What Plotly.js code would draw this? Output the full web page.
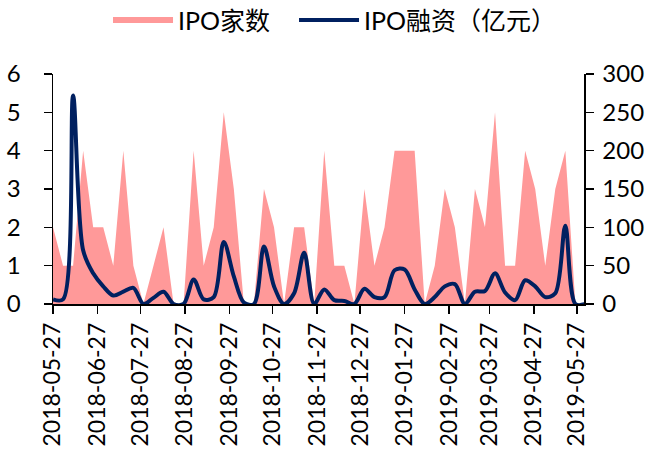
<!DOCTYPE html>
<html><head><meta charset="utf-8">
<script src="https://cdn.plot.ly/plotly-3.0.1.min.js"></script>
<style>html,body{margin:0;padding:0;background:#fff}</style></head>
<body><div id="chart" style="width:651px;height:450px"></div>
<script>
const weeks = ['2018-05-27','2018-06-03','2018-06-10','2018-06-17','2018-06-24','2018-07-01','2018-07-08','2018-07-15','2018-07-22','2018-07-29',
  '2018-08-05','2018-08-12','2018-08-19','2018-08-26','2018-09-02','2018-09-09','2018-09-16','2018-09-23','2018-09-30','2018-10-07',
  '2018-10-14','2018-10-21','2018-10-28','2018-11-04','2018-11-11','2018-11-18','2018-11-25','2018-12-02','2018-12-09','2018-12-16',
  '2018-12-23','2018-12-30','2019-01-06','2019-01-13','2019-01-20','2019-01-27','2019-02-03','2019-02-10','2019-02-17','2019-02-24',
  '2019-03-03','2019-03-10','2019-03-17','2019-03-24','2019-03-31','2019-04-07','2019-04-14','2019-04-21','2019-04-28','2019-05-05',
  '2019-05-12','2019-05-19','2019-05-26','2019-06-02'];
const ipoCount = [2,1,1,4,2,2,1,4,1,0, 1,2,0,0,4,1,2,5,3,0, 0,3,2,0,2,2,0,4,1,1, 0,3,1,2,4,4,4,0,1,3, 2,0,3,2,5,1,1,4,3,1, 3,4,0,0];
const ipoFunds = [6,6,272,70,40,23,11,16,21,0, 8,16,0,0,32,6,9,81,36,2, 0,75,23,0,14,67,0,19,5,4, 0,20,9,9,44,45,19,0,9,23, 26,0,16,17,40,15,5,31,23,9, 14,102,0,0];
const tickDates = ['2018-05-27','2018-06-27','2018-07-27','2018-08-27','2018-09-27','2018-10-27','2018-11-27',
  '2018-12-27','2019-01-27','2019-02-27','2019-03-27','2019-04-27','2019-05-27'];
const leftTicks = [0,1,2,3,4,5,6];
const rightTicks = [0,50,100,150,200,250,300];
const seriesNames = ['IPO家数','IPO融资（亿元）'];

const FONT = "Lato, 'Noto Sans CJK SC', sans-serif";
const traces = [
  {x: weeks, y: ipoCount, name: seriesNames[0], type: 'scatter', mode: 'none',
   fill: 'tozeroy', fillcolor: '#FF9999', yaxis: 'y', hoverinfo: 'skip', legend: 'legend'},
  {x: weeks, y: ipoFunds, name: seriesNames[1], type: 'scatter', mode: 'lines',
   line: {color: '#002060', width: 4, shape: 'spline', smoothing: 0.9}, yaxis: 'y2', cliponaxis: false,
   legend: 'legend2'}
];
const legendBase = {orientation: 'h', xanchor: 'left', y: 1.234, yanchor: 'middle',
  font: {family: FONT, size: 25, color: '#000'}, itemwidth: 60, bgcolor: 'rgba(0,0,0,0)'};
const layout = {
  width: 651, height: 450,
  margin: {l: 53, r: 67, t: 74, b: 146, autoexpand: false},
  paper_bgcolor: '#fff', plot_bgcolor: '#fff',
  font: {family: FONT, size: 24, color: '#000'},
  showlegend: true,
  legend: Object.assign({}, legendBase, {x: 0.1036}),
  legend2: Object.assign({}, legendBase, {x: 0.4539}),
  xaxis: {type: 'date', range: ['2018-05-27', '2019-06-01'], tickvals: tickDates, ticktext: tickDates,
    tickangle: -90, ticks: 'outside', ticklen: 8, tickwidth: 1.5, tickcolor: '#000',
    showline: true, linecolor: '#000', linewidth: 1.5, showgrid: false, zeroline: false,
    tickfont: {family: FONT, size: 23, color: '#000'}, automargin: false},
  yaxis: {range: [0, 6], tickvals: leftTicks, ticks: 'outside', ticklen: 8, tickwidth: 1.5, tickcolor: '#000',
    showline: true, linecolor: '#000', linewidth: 1.5, showgrid: false, zeroline: false, automargin: false,
    tickfont: {family: FONT, size: 24, color: '#000'}, ticklabelstandoff: 18},
  yaxis2: {range: [0, 300], tickvals: rightTicks, overlaying: 'y', side: 'right', anchor: 'x', automargin: false,
    ticks: 'outside', ticklen: 8, tickwidth: 1.5, tickcolor: '#000',
    showline: true, linecolor: '#000', linewidth: 1.5, showgrid: false, zeroline: false,
    tickfont: {family: FONT, size: 24, color: '#000'}, ticklabelstandoff: 4}
};
Plotly.newPlot('chart', traces, layout, {staticPlot: true, displayModeBar: false});
</script></body></html>
